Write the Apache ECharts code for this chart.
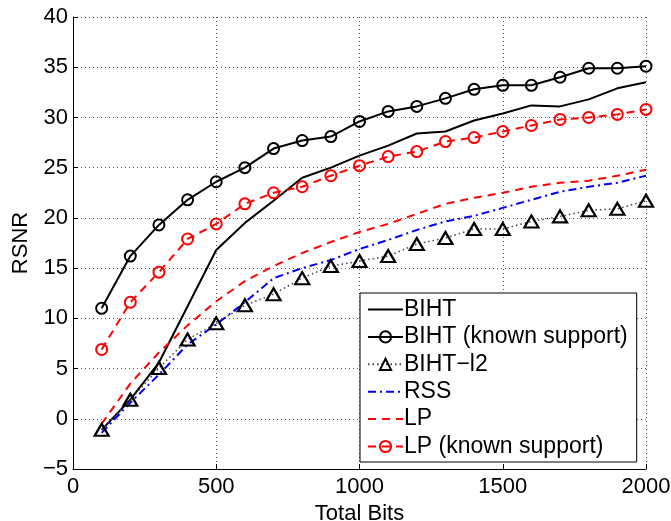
<!DOCTYPE html>
<html>
<head>
<meta charset="utf-8">
<script src="https://cdn.jsdelivr.net/npm/echarts@6/dist/echarts.min.js"></script>
<style>
  html, body { margin: 0; padding: 0; background: #fff; }
  #chart { width: 671px; height: 521px; }
</style>
</head>
<body>
<div id="chart"></div>
<script>
const bits = [100, 200, 300, 400, 500, 600, 700, 800, 900, 1000,
  1100, 1200, 1300, 1400, 1500, 1600, 1700, 1800, 1900, 2000]

const biht = [-1.1, 1.9, 5.6, 11.2, 16.8, 19.5, 21.7, 24.0, 25.0, 26.2,
  27.2, 28.4, 28.6, 29.7, 30.4, 31.2, 31.1, 31.8, 32.9, 33.5]
const bihtKnown = [11.0, 16.2, 19.3, 21.8, 23.6, 25.0, 26.9, 27.7, 28.1, 29.6,
  30.6, 31.1, 31.9, 32.8, 33.2, 33.2, 34.0, 34.9, 34.9, 35.1]
const bihtL2 = [-1.1, 1.9, 5.05, 7.9, 9.5, 11.3, 12.4, 14.0, 15.2, 15.7,
  16.2, 17.4, 18.0, 18.9, 18.9, 19.65, 20.15, 20.75, 20.9, 21.7]
const rss = [-1.4, 1.6, 4.4, 7.4, 9.4, 11.6, 14.0, 15.0, 15.8, 16.9,
  17.8, 18.8, 19.65, 20.2, 21.0, 21.8, 22.6, 23.1, 23.5, 24.2]
const lp = [-0.5, 3.5, 6.6, 9.3, 11.7, 13.7, 15.2, 16.5, 17.6, 18.6,
  19.4, 20.4, 21.4, 22.0, 22.5, 23.1, 23.5, 23.7, 24.2, 24.8]
const lpKnown = [6.9, 11.6, 14.6, 17.9, 19.4, 21.4, 22.5, 23.1, 24.2, 25.2,
  26.1, 26.6, 27.6, 28.0, 28.6, 29.2, 29.8, 30.0, 30.3, 30.8]

const pairs = ys => bits.map((x, i) => [x, ys[i]])

const chart = echarts.init(document.getElementById('chart'))

// legend entries for plain lines: hide the symbol, keep the line
const lineOnly = name => ({ name, itemStyle: { opacity: 0 } })

const option = {
  animation: false,
  textStyle: { fontFamily: 'Liberation Sans, Arial, sans-serif' },
  grid: { left: 73, right: 25, top: 17, bottom: 52, containLabel: false, outerBoundsMode: 'none' },
  legend: {
    orient: 'vertical',
    left: 360,
    top: 293,
    backgroundColor: '#fff',
    borderColor: '#000',
    borderWidth: 1,
    borderRadius: 0,
    padding: [4, 9, 3, 7],
    itemWidth: 35,
    itemHeight: 14,
    itemGap: 2.4,
    textStyle: {
      fontSize: 23,
      lineHeight: 25,
      color: '#000',
      fontFamily: 'Liberation Sans, Arial, sans-serif',
      padding: [0, 0, 0, -4]
    },
    data: [
      lineOnly('BIHT'),
      'BIHT (known support)',
      'BIHT\u2212l2',
      lineOnly('RSS'),
      lineOnly('LP'),
      'LP (known support)'
    ]
  },
  xAxis: {
    type: 'value',
    min: 0,
    max: 2000,
    interval: 500,
    name: 'Total Bits',
    nameLocation: 'middle',
    nameGap: 30,
    nameTextStyle: { fontSize: 22, color: '#000' },
    axisLine: { onZero: false, lineStyle: { color: '#000', width: 1 } },
    axisTick: { inside: true, length: 5, lineStyle: { color: '#000' } },
    axisLabel: { fontSize: 22, color: '#000', margin: 7, formatter: v => String(v) },
    splitLine: { show: true, lineStyle: { color: '#555', type: [1, 3], width: 1 } }
  },
  yAxis: {
    type: 'value',
    min: -5,
    max: 40,
    interval: 5,
    name: 'RSNR',
    nameLocation: 'middle',
    nameGap: 34,
    nameTextStyle: { fontSize: 22, color: '#000' },
    axisLine: { show: true, onZero: false, lineStyle: { color: '#000', width: 1 } },
    axisTick: { show: true, inside: true, length: 5, lineStyle: { color: '#000' } },
    axisLabel: {
      fontSize: 22,
      color: '#000',
      margin: 5,
      formatter: v => (v < 0 ? '\u2212' + Math.abs(v) : String(v))
    },
    splitLine: { show: true, lineStyle: { color: '#555', type: [1, 3], width: 1 } }
  },
  series: [
    {
      name: 'BIHT',
      type: 'line',
      data: pairs(biht),
      symbol: 'none',
      lineStyle: { color: '#000', width: 2 },
      itemStyle: { color: '#000' }
    },
    {
      name: 'BIHT (known support)',
      type: 'line',
      data: pairs(bihtKnown),
      symbol: 'circle',
      symbolSize: 11,
      lineStyle: { color: '#000', width: 2 },
      itemStyle: { color: 'rgba(0,0,0,0)', borderColor: '#000', borderWidth: 2 }
    },
    {
      name: 'BIHT\u2212l2',
      type: 'line',
      data: pairs(bihtL2),
      symbol: 'triangle',
      symbolSize: [14, 12],
      lineStyle: { color: '#444', width: 1.5, type: [1.5, 3] },
      itemStyle: { color: 'rgba(0,0,0,0)', borderColor: '#000', borderWidth: 2.2 }
    },
    {
      name: 'RSS',
      type: 'line',
      data: pairs(rss),
      symbol: 'none',
      lineStyle: { color: '#0000ff', width: 2, type: [8, 4, 2, 4] },
      itemStyle: { color: '#0000ff' }
    },
    {
      name: 'LP',
      type: 'line',
      data: pairs(lp),
      symbol: 'none',
      lineStyle: { color: '#ff0000', width: 2, type: [8, 6] },
      itemStyle: { color: '#ff0000' }
    },
    {
      name: 'LP (known support)',
      type: 'line',
      data: pairs(lpKnown),
      symbol: 'circle',
      symbolSize: 11,
      lineStyle: { color: '#ff0000', width: 2, type: [8, 6] },
      itemStyle: { color: 'rgba(0,0,0,0)', borderColor: '#ff0000', borderWidth: 2 }
    }
  ]
}

chart.setOption(option)
</script>
</body>
</html>
